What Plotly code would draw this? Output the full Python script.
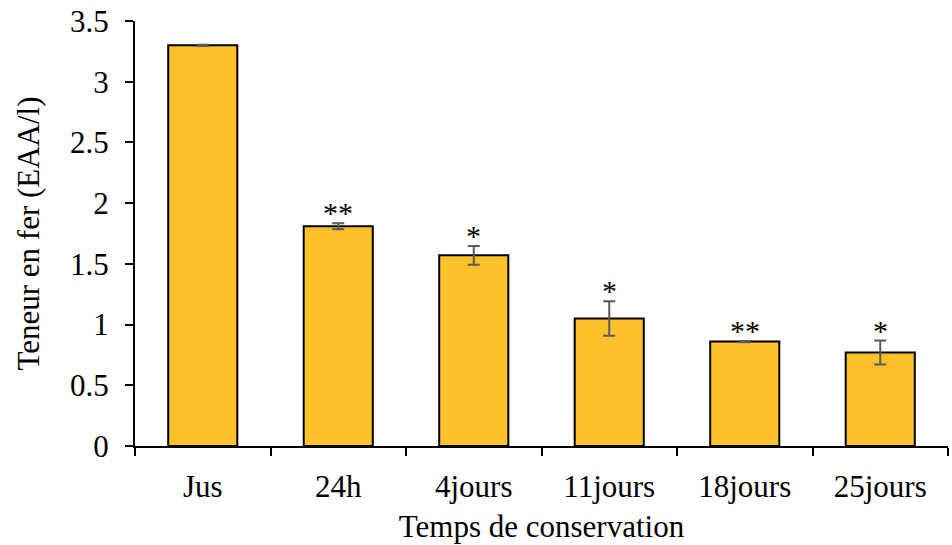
import plotly.graph_objects as go

# Iron content over storage time
categories = ["Jus", "24h", "4jours", "11jours", "18jours", "25jours"]
iron = [3.30, 1.81, 1.57, 1.05, 0.86, 0.77]
iron_err = [0.005, 0.025, 0.078, 0.142, 0.005, 0.098]
significance = ["", "**", "*", "*", "**", "*"]
y_ticks = [0, 0.5, 1, 1.5, 2, 2.5, 3, 3.5]
y_tick_text = ["0", "0.5", "1", "1.5", "2", "2.5", "3", "3.5"]

FONT = "Liberation Serif, Times New Roman, serif"

fig = go.Figure()
fig.add_trace(go.Bar(
    x=categories,
    y=iron,
    width=0.51,
    marker=dict(color="#FDC12A", line=dict(color="#000000", width=2)),
    error_y=dict(type="data", array=iron_err, visible=True,
                 color="#5a5a5a", thickness=2, width=6),
))

for cat, v, e, s in zip(categories, iron, iron_err, significance):
    if s:
        fig.add_annotation(x=cat, y=v + e, text=s, showarrow=False,
                           yanchor="bottom", yshift=-8,
                           font=dict(family=FONT, size=30, color="#000000"))

fig.update_layout(
    width=952, height=545,
    margin=dict(l=135, r=4, t=21, b=99),
    paper_bgcolor="white", plot_bgcolor="white",
    showlegend=False,
    font=dict(family=FONT, size=31, color="#000000"),
    xaxis=dict(
        title=dict(text="Temps de conservation", font=dict(size=31), standoff=12),
        showline=True, linecolor="#000000", linewidth=2,
        ticks="outside", tickson="boundaries", ticklen=8, tickwidth=2,
        tickcolor="#000000", tickfont=dict(size=31),
        ticklabelstandoff=12,
    ),
    yaxis=dict(
        title=dict(text="Teneur en fer (EAA/l)", font=dict(size=31), standoff=21),
        range=[0, 3.5], tickvals=y_ticks, ticktext=y_tick_text,
        showline=True, linecolor="#000000", linewidth=2,
        ticks="outside", ticklen=8, tickwidth=2, tickcolor="#000000",
        ticklabelstandoff=10,
        tickfont=dict(size=31), showgrid=False, zeroline=False,
    ),
)

fig.write_html("out.html")
